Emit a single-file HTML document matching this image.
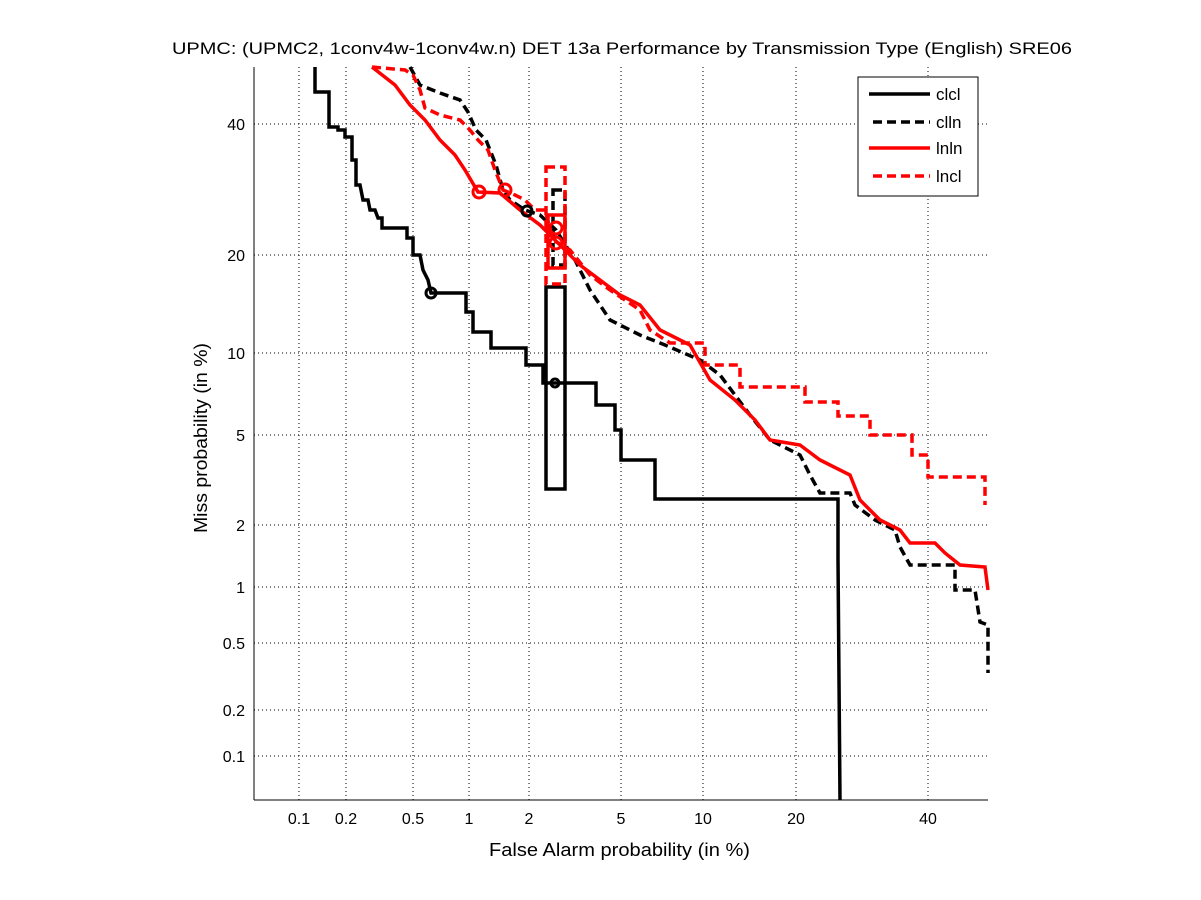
<!DOCTYPE html>
<html><head><meta charset="utf-8"><style>
body{margin:0;background:#fff}
svg{display:block;font-family:"Liberation Sans",Arial,sans-serif}
</style></head><body>
<svg width="1201" height="900" viewBox="0 0 1201 900" xmlns="http://www.w3.org/2000/svg">
<rect width="1201" height="900" fill="#fff"/>
<g stroke="#000" stroke-width="1" stroke-dasharray="1,3" fill="none">
<line x1="299" y1="67" x2="299" y2="800"/><line x1="346" y1="67" x2="346" y2="800"/>
<line x1="413" y1="67" x2="413" y2="800"/><line x1="469" y1="67" x2="469" y2="800"/>
<line x1="529" y1="67" x2="529" y2="800"/><line x1="621" y1="67" x2="621" y2="800"/>
<line x1="703" y1="67" x2="703" y2="800"/><line x1="796" y1="67" x2="796" y2="800"/>
<line x1="928" y1="67" x2="928" y2="800"/>
<line x1="254" y1="124" x2="988" y2="124"/><line x1="254" y1="255" x2="988" y2="255"/>
<line x1="254" y1="353" x2="988" y2="353"/><line x1="254" y1="435" x2="988" y2="435"/>
<line x1="254" y1="525" x2="988" y2="525"/><line x1="254" y1="587" x2="988" y2="587"/>
<line x1="254" y1="643" x2="988" y2="643"/><line x1="254" y1="710" x2="988" y2="710"/>
<line x1="254" y1="756" x2="988" y2="756"/>
</g>
<g stroke="#000" stroke-width="1">
<line x1="254" y1="67" x2="254" y2="800"/><line x1="254" y1="800" x2="988" y2="800"/>
</g>
<g font-size="16" fill="#000" text-anchor="middle">
<text x="299" y="824">0.1</text><text x="346" y="824">0.2</text><text x="413" y="824">0.5</text>
<text x="469" y="824">1</text><text x="529" y="824">2</text><text x="621" y="824">5</text>
<text x="703" y="824">10</text><text x="796" y="824">20</text><text x="928" y="824">40</text>
</g>
<g font-size="16" fill="#000" text-anchor="end">
<text x="245" y="130">40</text><text x="245" y="261">20</text><text x="245" y="359">10</text>
<text x="245" y="441">5</text><text x="245" y="531">2</text><text x="245" y="593">1</text>
<text x="245" y="649">0.5</text><text x="245" y="716">0.2</text><text x="245" y="762">0.1</text>
</g>
<text x="172" y="54" font-size="17" textLength="900" lengthAdjust="spacingAndGlyphs">UPMC: (UPMC2, 1conv4w-1conv4w.n) DET 13a Performance by Transmission Type (English) SRE06</text>
<text x="489" y="856" font-size="18" textLength="261" lengthAdjust="spacingAndGlyphs">False Alarm probability (in %)</text>
<text transform="translate(207,533) rotate(-90)" font-size="18" textLength="190" lengthAdjust="spacingAndGlyphs">Miss probability (in %)</text>
<g fill="none" stroke-width="3.5">
<polyline stroke="#000" points="315,67 315,92 329,92 329,127 338,127 338,130 345,130 345,137 352,137 352,160 356,160 356,185 360,185 363,200 368,200 370,210 375,210 378,218 382,218 382,228 407,228 407,238 413,238 413,255 420,255 423,270 428,280 431,293 466,293 466,312 473,312 473,332 491,332 491,348 526,348 526,365 543,365 543,383 596,383 596,405 615,405 615,430 621,430 621,460 655,460 655,499 838,499 838,560 840,800"/>
<rect x="546" y="287" width="19" height="202" stroke="#000"/>
<polyline stroke="#000" stroke-dasharray="9,5" points="410,67 420,85 440,93 460,100 468,112 476,130 486,140 496,165 503,190 510,200 525,210 540,215 556,230 575,260 590,290 610,320 640,335 665,345 700,360 720,375 735,395 750,415 770,440 800,455 810,475 820,493 850,493 855,505 875,520 895,530 900,547 910,565 955,565 955,590 975,590 980,622 988,625 988,673"/>
<rect x="553" y="190" width="12" height="75" stroke="#000" stroke-dasharray="9,5"/>
<polyline stroke="#f00" points="372,67 395,85 410,105 425,120 440,140 455,155 465,170 478,192 500,193 520,210 540,225 560,245 580,265 600,280 620,295 640,305 660,330 690,345 710,380 735,400 755,420 770,440 800,445 820,460 850,475 860,500 880,520 900,530 910,543 935,543 945,553 960,565 985,567 988,590"/>
<rect x="548" y="215" width="17" height="53" stroke="#f00"/>
<polyline stroke="#f00" stroke-dasharray="9,5" points="372,67 405,70 413,75 420,90 425,108 440,115 460,120 470,130 478,140 488,150 495,170 503,190 515,195 525,200 535,210 545,210 553,240 570,250 590,275 610,290 625,300 640,310 650,330 670,343 705,343 705,365 740,365 740,387 805,387 805,402 838,402 838,416 870,416 870,435 912,435 912,455 928,455 928,477 985,477 985,505"/>
<rect x="546" y="167" width="19" height="117" stroke="#f00" stroke-dasharray="9,5"/>
<circle cx="431" cy="293" r="5" stroke="#000" stroke-width="3"/>
<circle cx="527" cy="211" r="5" stroke="#000" stroke-width="3"/>
<circle cx="479" cy="192" r="6" stroke="#f00" stroke-width="3"/>
<circle cx="505" cy="190" r="6" stroke="#f00" stroke-width="3"/>
<circle cx="556" cy="228" r="6" stroke="#f00" stroke-width="3"/>
<circle cx="556" cy="243" r="6" stroke="#f00" stroke-width="3"/>
<circle cx="555" cy="383" r="4" stroke="#000" stroke-width="3"/>
</g>
<rect x="858" y="77" width="120" height="119" fill="#fff" stroke="#000" stroke-width="1"/>
<g stroke-width="3.5">
<line x1="869" y1="94" x2="930" y2="94" stroke="#000"/>
<line x1="873" y1="122" x2="930" y2="122" stroke="#000" stroke-dasharray="9,5"/>
<line x1="869" y1="148" x2="930" y2="148" stroke="#f00"/>
<line x1="873" y1="176" x2="930" y2="176" stroke="#f00" stroke-dasharray="9,5"/>
</g>
<g font-size="17" fill="#000">
<text x="936" y="100">clcl</text><text x="936" y="128">clln</text>
<text x="936" y="154">lnln</text><text x="936" y="182">lncl</text>
</g>
</svg>
</body></html>
